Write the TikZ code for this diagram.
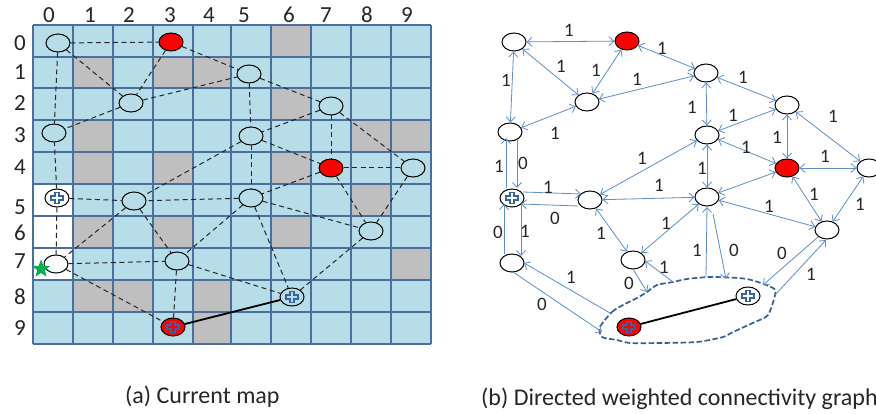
\documentclass[tikz,border=0pt]{standalone}
\usepackage{fontspec}
\setmainfont{Carlito}
\usetikzlibrary{arrows.meta,shapes.geometric}
\definecolor{cellblue}{HTML}{B7DEE8}
\definecolor{cellgray}{HTML}{BFBFBF}
\definecolor{gridline}{HTML}{4A6F9E}
\definecolor{edgeblue}{HTML}{5F8DC6}
\definecolor{blobblue}{HTML}{35608F}
\definecolor{stargreen}{HTML}{00B050}
\definecolor{plusblue}{HTML}{3A62A0}
\tikzset{
  vert/.style={draw=black,ellipse,line width=1pt,fill=white,minimum width=24pt,minimum height=18pt,inner sep=0pt},
  redvert/.style={vert,fill=red},
  clearvert/.style={vert,fill=none},
  dash edge/.style={draw=black!85,line width=1pt,dash pattern=on 5pt off 3.5pt},
  linkedge/.style={draw=black,line width=1.8pt},
  bothedge/.style={draw=edgeblue,line width=0.8pt,{Straight Barb[length=5pt,width=9pt]}-{Straight Barb[length=5pt,width=9pt]}},
  oneedge/.style={draw=edgeblue,line width=0.8pt,-{Straight Barb[length=5pt,width=9pt]}},
  weightlab/.style={font=\fontsize{19}{19}\selectfont,inner sep=0pt,text=black!85},
  axislab/.style={font=\fontsize{23}{23}\selectfont,inner sep=0pt,text=black!85},
  captext/.style={font=\fontsize{24}{24}\selectfont,inner sep=0pt,text=black!85},
  plusst/.style={draw=plusblue,line width=1.2pt,fill=none},
}
\newcommand{\plusmk}[1]{\draw[plusst,shift={(#1.center)}] (-2,-5.5)--(2,-5.5)--(2,-2)--(6,-2)--(6,2)--(2,2)--(2,5.5)--(-2,5.5)--(-2,2)--(-6,2)--(-6,-2)--(-2,-2)--cycle;}
\begin{document}
\begin{tikzpicture}[x=1pt,y=-1pt]
\clip (0,0) rectangle (876,414);
\fill[white] (0,0) rectangle (876,414);
% ---- grid
\def\xs{{33,73,113,153,193,231,271,311,351,391,431}}
\def\ys{{25,57,88,120,152,184,216,248,280,312,344}}
\fill[cellblue] (33,25) rectangle (431,344);
\fill[white] (33,184) rectangle (73,280);
\foreach \c/\r in {6/0,1/1,3/1,4/1,6/2,1/3,8/3,9/3,1/4,3/4,6/4,8/5,1/6,3/6,6/6,9/7,1/8,2/8,4/8,4/9}{
  \pgfmathsetmacro\xa{\xs[\c]}\pgfmathsetmacro\xb{\xs[\c+1]}
  \pgfmathsetmacro\ya{\ys[\r]}\pgfmathsetmacro\yb{\ys[\r+1]}
  \fill[cellgray] (\xa,\ya) rectangle (\xb,\yb);
}
\foreach \v in {33,73,113,153,193,231,271,311,351,391,431}{\draw[gridline,line width=1.1pt] (\v,25)--(\v,344);}
\foreach \v in {25,57,88,120,152,184,216,248,280,312,344}{\draw[gridline,line width=1.1pt] (33,\v)--(431,\v);}
% ---- axis labels
\foreach \t/\x in {0/49,1/90,2/129,3/170,4/209,5/244,6/289,7/326,8/367,9/407}{\node[axislab] (col\t) at (\x,15) {\t};}
\foreach \t/\y in {0/43,1/72,2/103,3/135,4/167,5/207,6/233,7/261,8/297,9/328}{\node[axislab] (row\t) at (20,\y) {\t};}
% ---- left map nodes
\node[clearvert] (a0) at (58,43) {};
\node[redvert] (ar) at (171,42) {};
\node[clearvert] (a2) at (131,103) {};
\node[clearvert] (a3) at (54,133) {};
\node[clearvert] (b5) at (57,198) {};
\node[clearvert] (c5) at (134,201) {};
\node[clearvert] (a7) at (56,264) {};
\node[clearvert] (m7) at (177,261) {};
\node[redvert] (rc) at (173,327) {};
\node[clearvert] (pc) at (292,297) {};
\node[clearvert] (n1) at (249,74) {};
\node[clearvert] (n2) at (331,106) {};
\node[clearvert] (n3) at (251,136) {};
\node[redvert] (n4) at (331,168) {};
\node[clearvert] (n9) at (413,168) {};
\node[clearvert] (n5) at (251,198) {};
\node[clearvert] (n8) at (371,231) {};
\foreach \p/\q in {a0/ar,a0/a2,a0/a3,ar/a2,ar/n1,a2/a3,a2/n1,n1/n2,n1/n3,n2/n3,n2/n4,n2/n9,n3/n4,n3/n5,n3/c5,n4/n9,n4/n5,n4/n8,n9/n8,n5/n8,n5/c5,n5/m7,n5/pc,n8/pc,b5/c5,b5/a3,b5/a7,c5/a7,c5/m7,a7/m7,a7/rc,m7/rc,m7/pc}{\draw[dash edge] (\p)--(\q);}
\draw[linkedge] (rc)--(pc);
\plusmk{b5}\plusmk{rc}\plusmk{pc}
\node[star,star points=5,star point ratio=2.4,fill=stargreen,inner sep=0pt,minimum size=19pt] (st) at (41,269) {};
% ---- right graph nodes
\node[vert] (A) at (514,42) {};
\node[redvert] (R) at (627,41) {};
\node[vert] (C) at (587,102) {};
\node[vert] (D) at (510,132) {};
\node[vert] (E) at (512,198) {};
\node[vert] (F) at (590,200) {};
\node[vert] (G) at (512,263) {};
\node[vert] (H) at (633,260) {};
\node[vert] (I) at (706,73) {};
\node[vert] (J) at (787,105) {};
\node[vert] (K) at (707,135) {};
\node[redvert] (L) at (787,168) {};
\node[vert] (M) at (869,168) {};
\node[vert] (N) at (707,197) {};
\node[vert] (O) at (827,230) {};
\node[vert] (P) at (748,296) {};
\node[redvert] (Q) at (629,327) {};
\plusmk{E}\plusmk{P}\plusmk{Q}
\foreach \p/\q in {A/R,A/C,R/C,D/A,D/C,R/I,I/C,I/J,I/K,K/J,J/L,J/M,L/M,K/L,K/N,L/N,L/O,M/O,N/O,K/F,N/F,N/H,F/H}{\draw[bothedge] (\p)--(\q);}
% ---- blob
\draw[blobblue,line width=1.7pt,dash pattern=on 5.5pt off 2.5pt] plot[smooth cycle,tension=0.45] coordinates {(600,327)(612,312)(623,305)(637,298)(647,292)(657,285)(673,282)(687,279)(712,277)(747,279)(773,288)(775,295)(768,315)(755,322)(733,332)(723,337)(697,342)(660,343)(630,343)(617,340)(602,337)};
\draw[linkedge] (Q)--(P);
% ---- directed edges with free ends
\coordinate (e1) at (506,188); \coordinate (d1) at (506,138);
\coordinate (d2) at (517,140); \coordinate (e2) at (517,188);
\coordinate (e3) at (523,192); \coordinate (f3) at (581,194);
\coordinate (f4) at (578,206); \coordinate (e4) at (521,204);
\coordinate (e5) at (521,205); \coordinate (g5) at (521,256);
\coordinate (g6) at (504,254); \coordinate (e6) at (504,204);
\coordinate (h7) at (633,269); \coordinate (b7) at (647,292);
\coordinate (b8) at (673,282); \coordinate (h8) at (645,261);
\coordinate (g9) at (513,272); \coordinate (b9) at (602,332);
\coordinate (b10) at (610,313); \coordinate (g10) at (524,263);
\coordinate (b11) at (706,277); \coordinate (n11) at (707,207);
\coordinate (n12) at (713,214); \coordinate (b12) at (726,279);
\coordinate (o13) at (818,237); \coordinate (b13) at (763,285);
\coordinate (b14) at (775,295); \coordinate (o14) at (826,240);
\foreach \p/\q in {e1/d1,d2/e2,e3/f3,f4/e4,e5/g5,g6/e6,h7/b7,b8/h8,g9/b9,b10/g10,b11/n11,n12/b12,o13/b13,b14/o14}{\draw[oneedge] (\p)--(\q);}
% ---- weights
\foreach \n/\t/\x/\y in {w1/1/569/30,w2/1/561/66,w3/1/596/70,w4/1/506/80,w5/1/637/79,w6/1/662/48,w7/1/555/133,w8/1/499/166,w9/0/523/163,w10/1/642/158,w11/1/659/185,w12/1/548/187,w13/1/743/77,w14/1/692/107,w15/1/733/115,w16/1/746/147,w17/1/777/137,w18/1/833/116,w19/1/825/156,w20/1/702/168,w21/1/814/194,w22/1/769/206,w23/1/860/204,w24/0/555/218,w25/1/601/233,w26/0/498/232,w27/1/525/231,w28/1/666/223,w29/1/664/267,w30/0/629/283,w31/1/571/277,w32/0/542/304,w33/1/697/250,w34/0/734/250,w35/0/782/253,w36/1/811/274}{\node[weightlab] (\n) at (\x,\y) {\t};}
% ---- captions
\node[captext,anchor=west] (capa) at (125,397) {(a) Current map};
\node[captext,anchor=west] (capb) at (481,399) {(b) Directed weighted connectivity graph};
\end{tikzpicture}
\end{document}
